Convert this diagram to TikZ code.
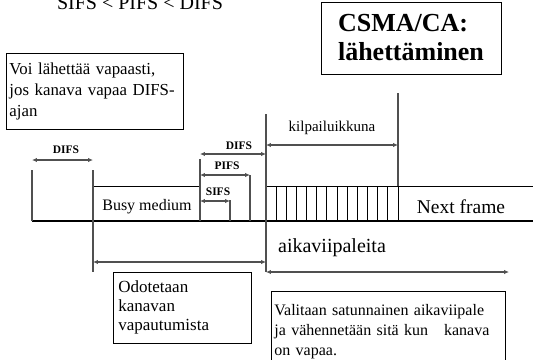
\documentclass[tikz,border=0pt]{standalone}
\usepackage{fontspec}
\setmainfont{Liberation Serif}
\usepackage{tikz}
\usetikzlibrary{calc,arrows.meta,positioning}
\definecolor{linec}{HTML}{505050}
\newcommand{\fsz}[2]{\fontsize{#1bp}{#2bp}\selectfont}
\tikzset{
  axis/.style={line width=1.1pt,black},
  frame/.style={line width=0.9pt,black},
  tick/.style={line width=1.3pt,linec},
  dim/.style={{Latex[length=5pt,width=4.5pt]}-{Latex[length=5pt,width=4.5pt]},line width=1.1pt,linec},
  lbl/.style={font=\bfseries\fsz{11.5}{12},inner sep=0pt},
  note/.style={draw,line width=0.8pt,align=left,inner xsep=5bp}
}

\begin{document}
\begin{tikzpicture}[x=1bp,y=-1bp]
\useasboundingbox (0,0) rectangle (533,359);
% headings
\node[font=\fsz{20}{22},anchor=base,inner sep=0pt] (order) at (140,9) {SIFS < PIFS < DIFS};
\node[draw,line width=0.8pt,font=\bfseries\fsz{26}{29},align=left,minimum width=180bp,minimum height=72bp] (title) at (411,38) {CSMA/CA:\\lähettäminen};
\node[note,font=\fsz{16.8}{21},text width=170bp,minimum height=76bp,inner xsep=3.5bp] (free) at (94.5,91) {Voi lähettää vapaasti,\\jos kanava vapaa DIFS-\\ajan};

% points on the time axis
\coordinate (m0) at (32,221);
\coordinate (m1) at (93,221);
\coordinate (m2) at (200,221);
\coordinate (m3) at (230,221);
\coordinate (m4) at (250,221);
\coordinate (m5) at (266,221);
\coordinate (m6) at (398,221);
\coordinate (mE) at (533,221);

% medium and slots
\draw[axis] (m0) -- (mE);
\draw[frame] (m1 |- 0,186) -- (m2 |- 0,186);
\draw[frame] (m5 |- 0,186) -- (mE |- 0,186);
\foreach \i in {1,...,13}
  \draw[frame] ($(m5)+(\i*132/13,0)$) -- ++(0,-35);

% marks
\draw[tick] (m0) -- (m0 |- 0,170);
\draw[tick] (m1 |- 0,170) -- (m1 |- 0,272);
\draw[tick] (m2 |- 0,159) -- (m2);
\draw[tick] (m3 |- 0,200) -- (m3);
\draw[tick] (m4 |- 0,175) -- (m4);
\draw[tick] (m5 |- 0,114) -- (m5 |- 0,272);
\draw[tick] (m6 |- 0,93) -- (m6 |- 0,186);

% intervals
\draw[dim] (m0 |- 0,160) -- (m1 |- 0,160);
\node[lbl] (difsA) at (66,150) {DIFS};
\draw[dim] (m2 |- 0,154) -- (m5 |- 0,154);
\node[lbl] (difsB) at (239,146) {DIFS};
\draw[dim] (m2 |- 0,175) -- (m4 |- 0,175);
\node[lbl] (pifs) at (227,166) {PIFS};
\draw[dim] (m2 |- 0,201) -- (m3 |- 0,201);
\node[lbl] (sifs) at (218,192) {SIFS};
\draw[dim] (m5 |- 0,145) -- (m6 |- 0,145);
\node[font=\fsz{15}{17}] (window) at (332,128) {kilpailuikkuna};
\draw[dim] (m1 |- 0,262) -- (m5 |- 0,262);
\coordinate (slotEnd) at (509,272);
\draw[dim] (m5 |- 0,272) -- (slotEnd);

% texts
\node[font=\fsz{16}{18}] (busy) at (147,207) {Busy medium};
\node[font=\fsz{19.5}{21}] (next) at (461,207) {Next frame};
\node[font=\fsz{20}{22}] (slots) at (332,248) {aikaviipaleita};
\node[note,anchor=north west,font=\fsz{17}{19},text width=128bp,minimum height=71bp,inner xsep=5bp] (wait) at (113,272) {Odotetaan\\kanavan\\vapautumista};
\node[note,anchor=north west,font=\fsz{16}{20},text width=228bp,minimum height=80bp,inner xsep=3bp] (pick) at (271,291) {Valitaan satunnainen aikaviipale\\ja vähennetään sitä kun \ \ kanava\\on vapaa.};
\end{tikzpicture}
\end{document}
